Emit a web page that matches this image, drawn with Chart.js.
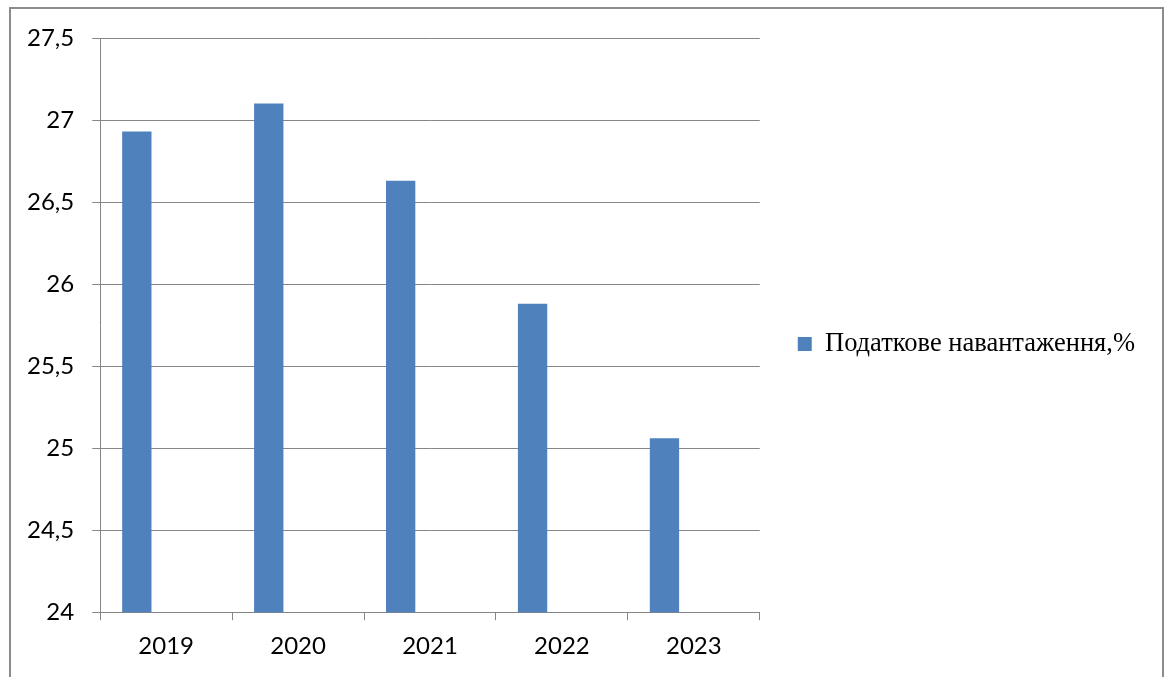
<!DOCTYPE html>
<html>
<head>
<meta charset="utf-8">
<script src="https://cdn.jsdelivr.net/npm/chart.js@4"></script>
<style>
  html, body { margin: 0; padding: 0; background: #fff; overflow: hidden; }
  .wrap { position: relative; width: 1167px; height: 677px; }
  .frame {
    position: absolute; left: 9px; top: 7px; width: 1155px; height: 700px;
    box-sizing: border-box; border: 2px solid #8c8c8c;
  }
  #myChart { position: absolute; left: 0; top: 0; }
</style>
</head>
<body>
<div class="wrap">
  <div class="frame"></div>
  <canvas id="myChart" width="1167" height="677"></canvas>
</div>
<script>
const years = ['2019', '2020', '2021', '2022', '2023'];
const taxLoad = [26.93, 27.1, 26.63, 25.88, 25.06];
const seriesName = 'Податкове навантаження,%';
const yTicks = [24, 24.5, 25, 25.5, 26, 26.5, 27, 27.5];

const gridColor = '#868686';
const barColor = '#4f81bd';

// the legend column is narrower than its text; widen it before drawing so
// the label is not clipped, and keep the item level with the middle of the plot
const legendRoom = {
  id: 'legendRoom',
  beforeDraw(chart) {
    const lg = chart.legend;
    lg.right = chart.width;
    lg.width = lg.right - lg.left;
    lg.bottom = chart.chartArea.bottom + 38;
    lg.height = lg.bottom - lg.top;
  }
};

const ctx = document.getElementById('myChart').getContext('2d');
let myChart = new Chart(ctx, {
  type: 'bar',
  data: {
    labels: years,
    datasets: [
      {
        label: seriesName,
        data: taxLoad,
        backgroundColor: barColor,
        borderWidth: 0,
        categoryPercentage: 0.667,
        barPercentage: 1
      },
      // two empty slots so the bar sits at the left of each group
      { label: '', data: [], categoryPercentage: 0.667, barPercentage: 1 },
      { label: '', data: [], categoryPercentage: 0.667, barPercentage: 1 }
    ]
  },
  plugins: [legendRoom],
  options: {
    responsive: false,
    animation: false,
    layout: { padding: { left: 9, right: 157, top: 38, bottom: 4 } },
    plugins: {
      tooltip: { enabled: false },
      legend: {
        position: 'right',
        labels: {
          filter: item => item.datasetIndex === 0,
          boxWidth: 14,
          boxHeight: 14,
          padding: 38,
          color: '#000',
          font: { family: '"Liberation Serif", "Times New Roman", serif', size: 26.5 }
        }
      }
    },
    scales: {
      x: {
        grid: {
          offset: true,
          drawOnChartArea: false,
          drawTicks: true,
          tickLength: 8,
          color: gridColor
        },
        border: { color: gridColor },
        ticks: {
          color: '#000',
          padding: 12,
          font: { family: 'Lato', size: 24 }
        }
      },
      y: {
        min: yTicks[0],
        max: yTicks[yTicks.length - 1],
        afterBuildTicks: axis => {
          axis.ticks = yTicks.map(v => ({ value: v }));
        },
        grid: { color: gridColor, tickLength: 8 },
        border: { color: gridColor },
        ticks: {
          color: '#000',
          padding: 18,
          font: { family: 'Lato', size: 24 },
          callback: v => String(v).replace('.', ',')
        }
      }
    }
  }
});
</script>
</body>
</html>
